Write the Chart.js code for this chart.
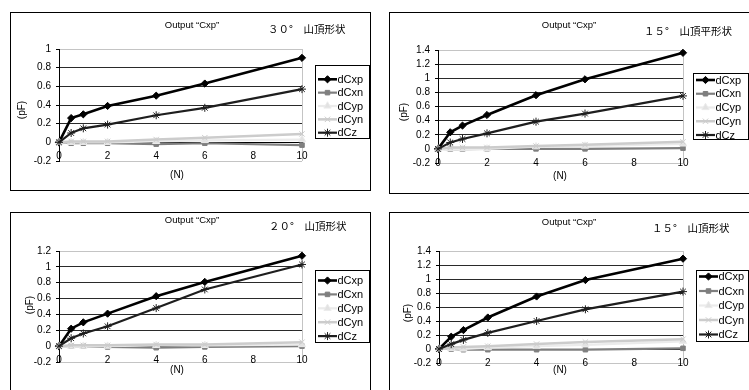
<!DOCTYPE html>
<html><head><meta charset="utf-8">
<script src="https://cdn.jsdelivr.net/npm/chart.js@4.4.1/dist/chart.umd.min.js"></script>
<style>
html,body{margin:0;padding:0;background:#fff;width:749px;height:390px;overflow:hidden;position:relative}
canvas{position:absolute}
</style></head><body>
<canvas id="c1" style="left:10px;top:12px;width:361px;height:179px" width="361" height="179"></canvas>
<canvas id="c2" style="left:389px;top:12px;width:365px;height:182px" width="365" height="182"></canvas>
<canvas id="c3" style="left:10px;top:212px;width:361px;height:185px" width="361" height="185"></canvas>
<canvas id="c4" style="left:389px;top:212px;width:365px;height:185px" width="365" height="185"></canvas>
<script>
// ---------- data ----------
const forceN = [0, 0.5, 1, 2, 4, 6, 10];
const seriesNames = ['dCxp', 'dCxn', 'dCyp', 'dCyn', 'dCz'];
const xTickValues = [0, 2, 4, 6, 8, 10];
const chartTitle = 'Output “Cxp”';
const panelLabels = ['３０°　山頂形状', '１５°　山頂平形状', '２０°　山頂形状', '１５°　山頂形状'];
const yAxisTitle = '(pF)';
const xAxisTitle = '(N)';
const yMaxima = [1, 1.4, 1.2, 1.4];
const yMinimum = -0.2;
const yStep = 0.2;

// panel 1: 30° 山頂形状
const p1_dCxp = [0, 0.26, 0.30, 0.39, 0.50, 0.63, 0.905];
const p1_dCxn = [0, -0.01, -0.01, -0.01, -0.02, -0.01, -0.03];
const p1_dCyp = [0, 0.0, 0.0, 0.0, 0.01, 0.02, 0.03];
const p1_dCyn = [0, 0.01, 0.01, 0.01, 0.03, 0.05, 0.09];
const p1_dCz  = [0, 0.10, 0.15, 0.19, 0.29, 0.37, 0.57];
// panel 2: 15° 山頂平形状
const p2_dCxp = [0, 0.235, 0.33, 0.48, 0.76, 0.985, 1.36];
const p2_dCxn = [0, -0.005, -0.005, 0, 0, 0, 0.01];
const p2_dCyp = [0, 0.0, 0.0, 0.0, 0.03, 0.04, 0.07];
const p2_dCyn = [0, 0.02, 0.02, 0.02, 0.04, 0.06, 0.10];
const p2_dCz  = [0, 0.09, 0.14, 0.22, 0.385, 0.50, 0.75];
// panel 3: 20° 山頂形状
const p3_dCxp = [0, 0.22, 0.30, 0.41, 0.63, 0.81, 1.14];
const p3_dCxn = [0, 0, 0, -0.01, -0.02, -0.01, 0.0];
const p3_dCyp = [0, 0, 0, 0, 0.01, 0.01, 0.02];
const p3_dCyn = [0, 0.01, 0.01, 0.01, 0.02, 0.02, 0.05];
const p3_dCz  = [0, 0.10, 0.16, 0.25, 0.48, 0.715, 1.03];
// panel 4: 15° 山頂形状
const p4_dCxp = [0, 0.176, 0.27, 0.45, 0.75, 0.985, 1.29];
const p4_dCxn = [0, 0, -0.01, -0.01, -0.01, -0.01, 0.01];
const p4_dCyp = [0, 0.01, 0.0, 0.02, 0.04, 0.06, 0.11];
const p4_dCyn = [0, 0.02, 0.03, 0.04, 0.07, 0.10, 0.14];
const p4_dCz  = [0, 0.07, 0.13, 0.23, 0.40, 0.567, 0.82];

// ---------- styles ----------
const seriesStyle = {
  dCxp: {line: '#000000', fill: '#000000', lw: 2.6, ps: 'rectRot', r: 3.6},
  dCxn: {line: '#7f7f7f', fill: '#7f7f7f', lw: 2.2, ps: 'rect', r: 3.2},
  dCyp: {line: '#ebebeb', fill: '#e2e2e2', lw: 2.2, ps: 'triangle', r: 4.2},
  dCyn: {line: '#cccccc', fill: '#cccccc', lw: 2.5, ps: 'crossRot', r: 3.8},
  dCz:  {line: '#1e1e1e', fill: '#1e1e1e', lw: 2.2, ps: 'star', r: 4}
};
const FONT = '"Liberation Sans", Arial, sans-serif';
const JPFONT = '"Noto Sans CJK JP", sans-serif';

const panels = [
  {id: 'c1', series: [p1_dCxp, p1_dCxn, p1_dCyp, p1_dCyn, p1_dCz], ymax: yMaxima[0], label: panelLabels[0],
   yw: 49, top: 37, right: 69, xh: 30,
   title: [182, 13], jp: [258, 17], pF: [12, 98], N: [167, 163],
   legend: {x: 305, y: 53, w: 54, h: 73, y0: 67.3, step: 13.35}},
  {id: 'c2', series: [p2_dCxp, p2_dCxn, p2_dCyp, p2_dCyn, p2_dCz], ymax: yMaxima[1], label: panelLabels[1],
   yw: 49, top: 38, right: 71, xh: 31,
   title: [180, 13], jp: [255, 19], pF: [15, 100], N: [171, 164],
   legend: {x: 304, y: 61, w: 55, h: 66, y0: 68, step: 13.75}},
  {id: 'c3', series: [p3_dCxp, p3_dCxn, p3_dCyp, p3_dCyn, p3_dCz], ymax: yMaxima[2], label: panelLabels[2],
   yw: 49, top: 39, right: 69, xh: 35,
   title: [182, 8], jp: [259, 14], pF: [20, 93], N: [167, 158],
   legend: {x: 305, y: 58, w: 54, h: 72, y0: 68.5, step: 13.9}},
  {id: 'c4', series: [p4_dCxp, p4_dCxn, p4_dCyp, p4_dCyn, p4_dCz], ymax: yMaxima[3], label: panelLabels[3],
   yw: 50, top: 39, right: 71, xh: 34,
   title: [180, 10], jp: [263, 16], pF: [19, 101], N: [171, 158],
   legend: {x: 307, y: 58, w: 52, h: 71, y0: 64.5, step: 14.5}}
];

function marker(ctx, st, x, y) {
  if (Chart.helpers && Chart.helpers.drawPoint) {
    ctx.save();
    ctx.fillStyle = st.fill; ctx.strokeStyle = st.line; ctx.lineWidth = 1;
    Chart.helpers.drawPoint(ctx, {pointStyle: st.ps, radius: st.r, rotation: 0, borderWidth: 1}, x, y);
    ctx.restore();
  }
}

const decoPlugin = {
  id: 'deco',
  beforeDraw(chart) {
    const c = chart.ctx;
    c.save(); c.fillStyle = '#fff'; c.fillRect(0, 0, chart.width, chart.height); c.restore();
  },
  afterDraw(chart, args, o) {
    const c = chart.ctx;
    c.save();
    c.strokeStyle = '#000'; c.lineWidth = 1;
    c.strokeRect(0.5, 0.5, chart.width - 1, chart.height - 1);
    c.fillStyle = '#000';
    c.textBaseline = 'middle';
    c.font = '9.5px ' + FONT; c.textAlign = 'center';
    c.fillText(chartTitle, o.title[0], o.title[1]);
    c.font = '10.5px ' + JPFONT; c.textAlign = 'left';
    c.fillText(o.label, o.jp[0], o.jp[1]);
    c.font = '10px ' + FONT; c.textAlign = 'center';
    c.fillText(xAxisTitle, o.N[0], o.N[1]);
    c.save(); c.translate(o.pF[0], o.pF[1]); c.rotate(-Math.PI / 2);
    c.fillText(yAxisTitle, 0, 0); c.restore();
    // legend
    const L = o.legend;
    c.fillStyle = '#fff'; c.fillRect(L.x, L.y, L.w, L.h);
    c.strokeStyle = '#000'; c.lineWidth = 1;
    c.strokeRect(Math.round(L.x) + 0.5, Math.round(L.y) + 0.5, L.w, L.h);
    seriesNames.forEach((name, i) => {
      const st = seriesStyle[name];
      const y = L.y0 + i * L.step;
      c.strokeStyle = st.line; c.lineWidth = st.lw;
      c.beginPath(); c.moveTo(L.x + 3, y); c.lineTo(L.x + 22, y); c.stroke();
      marker(c, st, L.x + 12.5, y);
      c.fillStyle = '#000'; c.font = '11px ' + FONT; c.textAlign = 'left';
      c.fillText(name, L.x + 22.5, y + 0.5);
    });
    c.restore();
  }
};

function near(a, b) { return Math.abs(a - b) < 1e-6; }

panels.forEach(p => {
  const datasets = seriesNames.map((name, i) => {
    const st = seriesStyle[name];
    return {
      label: name,
      data: forceN.map((x, k) => ({x: x, y: p.series[i][k]})),
      borderColor: st.line, backgroundColor: st.fill,
      pointBackgroundColor: st.fill, pointBorderColor: st.line, pointBorderWidth: 1,
      borderWidth: st.lw, pointStyle: st.ps, pointRadius: st.r, pointHoverRadius: st.r,
      tension: 0, order: 10 - i, clip: 6
    };
  });
  new Chart(document.getElementById(p.id), {
    type: 'line',
    data: {datasets},
    plugins: [decoPlugin],
    options: {
      responsive: false, animation: false, devicePixelRatio: 1,
      layout: {padding: {top: p.top, right: p.right, left: 0, bottom: p.xh}},
      plugins: {legend: {display: false}, tooltip: {enabled: false}, title: {display: false},
        deco: {title: p.title, jp: p.jp, pF: p.pF, N: p.N, legend: p.legend, label: p.label}},
      scales: {
        x: {
          type: 'linear', position: {y: 0}, min: 0, max: 10,
          afterBuildTicks: s => { s.ticks = xTickValues.map(v => ({value: v})); },
          ticks: {color: '#000', font: {family: FONT, size: 10}, padding: 8, maxRotation: 0, autoSkip: false,
                  callback: v => String(v)},
          grid: {drawTicks: false, lineWidth: 1,
                 color: ctx => (ctx.tick && near(ctx.tick.value, 10)) ? '#c4c4c4' : 'rgba(0,0,0,0)'},
          border: {display: true, color: '#000', width: 1}
        },
        y: {
          min: yMinimum, max: p.ymax,
          afterFit: s => { s.width = p.yw; },
          ticks: {stepSize: yStep, autoSkip: false, color: '#000', font: {family: FONT, size: 10}, padding: 5,
                  callback: v => String(Math.round(v * 10) / 10)},
          grid: {drawTicks: true, tickLength: 3, tickColor: '#000', lineWidth: 1,
                 color: ctx => {
                   const v = ctx.tick ? ctx.tick.value : 0;
                   if (near(v, p.ymax) || near(v, yMinimum)) return '#c4c4c4';
                   if (near(v, 0)) return '#000';
                   return '#2a2a2a';
                 }},
          border: {display: true, color: '#000', width: 1}
        }
      }
    }
  });
});
</script>
</body></html>
